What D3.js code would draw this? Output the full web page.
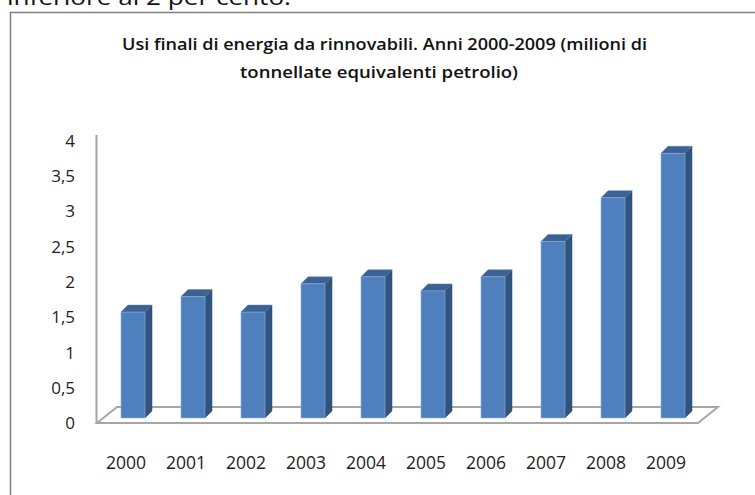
<!DOCTYPE html>
<html><head><meta charset="utf-8">
<script src="https://cdn.jsdelivr.net/npm/d3@7"></script>
<style>html,body{margin:0;padding:0;background:#fff;overflow:hidden}</style>
</head><body>
<script>
const years = ["2000","2001","2002","2003","2004","2005","2006","2007","2008","2009"];
const values = [1.5, 1.72, 1.5, 1.9, 2.0, 1.8, 2.0, 2.5, 3.12, 3.75];
const yTicks = [0, 0.5, 1, 1.5, 2, 2.5, 3, 3.5, 4];
const titleLines = ["Usi finali di energia da rinnovabili. Anni 2000-2009 (milioni di", "tonnellate equivalenti petrolio)"];
const topText = "inferiore al 2 per cento.";

const W = 755, H = 495;
const svg = d3.select("body").append("svg").attr("width", W).attr("height", H);

// text above the frame (cropped, as in the reference)
svg.append("text").attr("x", 7).attr("y", 5).attr("font-family", "Open Sans").attr("font-size", 21)
  .attr("fill", "#111").attr("textLength", 284).attr("lengthAdjust", "spacingAndGlyphs").text(topText);

// frame
svg.append("rect").attr("x", 10.5).attr("y", 12.5).attr("width", 760).attr("height", 500)
  .attr("fill", "#fff").attr("stroke", "#7f7f7f").attr("stroke-width", 1.5);

// title
const tl = [525, 278], tx = [384.5, 379], ty = [50, 78];
titleLines.forEach((t, i) => {
  svg.append("text").attr("x", tx[i]).attr("y", ty[i]).attr("text-anchor", "middle")
    .attr("font-family", "Open Sans").attr("font-weight", 600).attr("font-size", 17).attr("fill", "#111")
    .attr("textLength", tl[i]).attr("lengthAdjust", "spacingAndGlyphs").text(t);
});

const x = d3.scaleBand().domain(years).range([103, 703]).paddingInner(0.6).paddingOuter(0.3);
const y = d3.scaleLinear().domain([0, 4]).range([418, 135.6]);
const DX = 20, DY = -16;   // floor depth
const dx = 7, dy = -7;     // bar depth

// floor
const fl = 97, fr = 698, fy = 423;
svg.append("path")
  .attr("d", `M${fl},${fy} L${fl + DX},${fy + DY} L${fr + DX},${fy + DY} L${fr},${fy} Z`)
  .attr("fill", "#fff").attr("stroke", "#a6a6a6").attr("stroke-width", 2);
// wall line
svg.append("line").attr("x1", 96.5).attr("x2", 96.5).attr("y1", y(4) - 0.5).attr("y2", fy)
  .attr("stroke", "#a6a6a6").attr("stroke-width", 2);

// y axis
const yAxis = svg.append("g").attr("transform", "translate(96,4.5)")
  .call(d3.axisLeft(y).tickValues(yTicks).tickSize(0).tickPadding(21)
    .tickFormat(d => String(d).replace(".", ",")));
yAxis.select(".domain").remove();
yAxis.selectAll("text").attr("font-family", "Open Sans").attr("font-size", 17).attr("fill", "#222").attr("dy", "0.36em");

// x axis
const xAxis = svg.append("g").attr("transform", "translate(-7,451)")
  .call(d3.axisBottom(x).tickSize(0).tickPadding(0));
xAxis.select(".domain").remove();
xAxis.selectAll("text").attr("font-family", "Open Sans").attr("font-size", 17.5).attr("fill", "#222").attr("dy", "1em");

// bars
const bars = svg.append("g").selectAll("g").data(years.map((d, i) => ({ year: d, v: values[i] }))).join("g");
const bw = x.bandwidth();
bars.append("path") // side
  .attr("d", d => { const x0 = x(d.year) + bw, yt = y(d.v), yb = y(0);
    return `M${x0},${yb} L${x0},${yt} L${x0 + dx},${yt + dy} L${x0 + dx},${yb + dy} Z`; })
  .attr("fill", "#31547f").attr("stroke", "#2a4a72").attr("stroke-width", 0.5);
bars.append("path") // top
  .attr("d", d => { const x0 = x(d.year), yt = y(d.v);
    return `M${x0},${yt} L${x0 + dx},${yt + dy} L${x0 + bw + dx},${yt + dy} L${x0 + bw},${yt} Z`; })
  .attr("fill", "#3b6293").attr("stroke", "#5a80b0").attr("stroke-width", 0.5);
bars.append("rect") // front
  .attr("x", d => x(d.year)).attr("y", d => y(d.v)).attr("width", bw).attr("height", d => y(0) - y(d.v))
  .attr("fill", "#4f80bd").attr("stroke", "#8fb0d8").attr("stroke-width", 0.6);
</script>
</body></html>
